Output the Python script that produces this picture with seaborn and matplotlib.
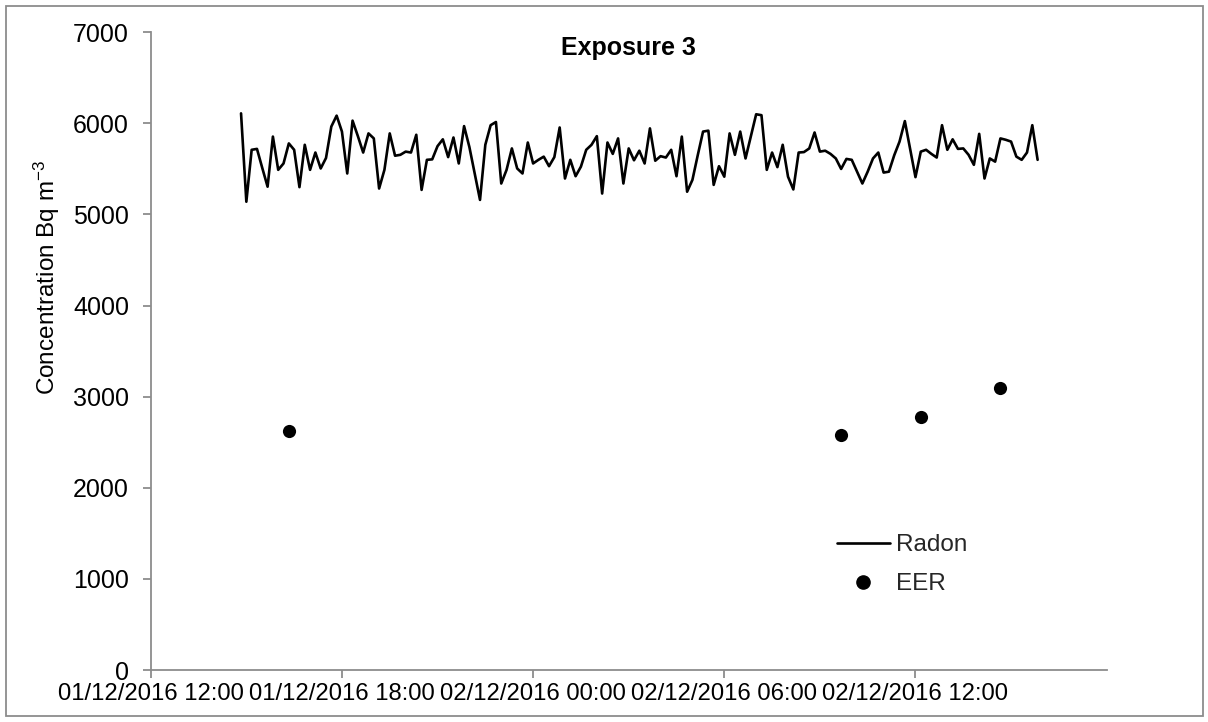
import matplotlib
matplotlib.use("Agg")
import matplotlib.pyplot as plt
import matplotlib.dates as mdates
from matplotlib.lines import Line2D
from matplotlib.patches import Rectangle
import pandas as pd
import seaborn as sns

# Radon concentration, 10-minute readings starting 01/12/2016 14:50 (Bq m-3)
radon_start = "2016-12-01 14:50"
radon_step = "10min"
radon_values = [
    6110, 5140, 5710, 5720, 5510, 5305, 5855, 5490, 5560, 5780,
    5710, 5300, 5765, 5490, 5680, 5505, 5620, 5965, 6085, 5910,
    5450, 6030, 5860, 5680, 5890, 5835, 5285, 5490, 5890, 5645,
    5655, 5690, 5680, 5875, 5270, 5600, 5605, 5750, 5825, 5630,
    5845, 5560, 5970, 5740, 5450, 5160, 5765, 5980, 6015, 5340,
    5490, 5725, 5505, 5450, 5790, 5560, 5600, 5635, 5530, 5630,
    5955, 5395, 5600, 5420, 5525, 5710, 5765, 5860, 5230, 5790,
    5665, 5835, 5340, 5725, 5595, 5700, 5560, 5945, 5590, 5640,
    5625, 5710, 5420, 5855, 5250, 5380, 5650, 5910, 5920, 5325,
    5530, 5415, 5890, 5655, 5910, 5615, 5860, 6100, 6090, 5490,
    5680, 5520, 5765, 5415, 5275, 5680, 5685, 5725, 5900, 5690,
    5700, 5665, 5615, 5500, 5610, 5600, 5470, 5340, 5470, 5615,
    5680, 5460, 5470, 5650, 5800, 6025, 5715, 5410, 5690, 5710,
    5665, 5625, 5980, 5710, 5825, 5720, 5725, 5655, 5545, 5885,
    5395, 5615, 5580, 5835, 5820, 5800, 5635, 5600, 5680, 5980,
    5600,
]

# Equilibrium equivalent radon (EER) spot measurements
eer_times = ["2016-12-01 16:20", "2016-12-02 09:40", "2016-12-02 12:10", "2016-12-02 14:40"]
eer_values = [2625, 2585, 2780, 3100]

y_ticks = [0, 1000, 2000, 3000, 4000, 5000, 6000, 7000]
x_ticks = ["2016-12-01 12:00", "2016-12-01 18:00", "2016-12-02 00:00",
           "2016-12-02 06:00", "2016-12-02 12:00"]
x_limits = ["2016-12-01 12:00", "2016-12-02 18:00"]

radon_df = pd.DataFrame({
    "time": pd.date_range(radon_start, periods=len(radon_values), freq=radon_step),
    "value": radon_values,
})
eer_df = pd.DataFrame({"time": pd.to_datetime(eer_times), "value": eer_values})

sns.set_theme(style="white")
plt.rcParams["font.family"] = ["Liberation Sans", "DejaVu Sans"]
plt.rcParams["mathtext.default"] = "regular"

fig = plt.figure(figsize=(12.08, 7.22), dpi=100)
ax = fig.add_axes([0.1248, 0.072, 0.7913, 0.8833])

sns.lineplot(data=radon_df, x="time", y="value", ax=ax, color="black",
             linewidth=1.9, legend=False)
sns.scatterplot(data=eer_df, x="time", y="value", ax=ax, color="black",
                s=90, edgecolor="black", linewidth=0, legend=False)

axis_grey = "#8c8c8c"
ax.set_ylim(0, 7000)
ax.set_yticks(y_ticks)
ax.set_xlim(pd.to_datetime(x_limits[0]), pd.to_datetime(x_limits[1]))
ax.set_xticks(pd.to_datetime(x_ticks))
ax.xaxis.set_major_formatter(mdates.DateFormatter("%d/%m/%Y %H:%M"))

for side in ["top", "right"]:
    ax.spines[side].set_visible(False)
for side in ["left", "bottom"]:
    ax.spines[side].set_color(axis_grey)
    ax.spines[side].set_linewidth(1.3)

ax.tick_params(axis="both", which="major", direction="out", length=5.6,
               width=1.3, color=axis_grey, labelcolor="black",
               left=True, bottom=True)
ax.tick_params(axis="x", pad=4, labelsize=17.2)
ax.tick_params(axis="y", pad=10, labelsize=18)

ax.set_xlabel("")
ax.set_ylabel("Concentration Bq m$^{-3}$", fontsize=17.5, color="black")
ax.yaxis.set_label_coords(-0.093, 0.615)

ax.text(0.5, 0.975, "Exposure 3", transform=ax.transAxes, ha="center",
        va="center", fontsize=18, fontweight="bold", color="black")

handles = [
    Line2D([], [], color="black", linewidth=1.9),
    Line2D([], [], color="black", marker="o", linestyle="none", markersize=9.5),
]
ax.legend(handles, ["Radon", "EER"], loc="upper left",
          bbox_to_anchor=(0.7176, 0.2126), frameon=False, fontsize=17.5,
          handlelength=2.18, handletextpad=0.25, labelspacing=0.7,
          borderaxespad=0, borderpad=0)

fig.patches.append(Rectangle((0.005, 0.008), 0.991, 0.983, transform=fig.transFigure,
                             fill=False, edgecolor="#8c8c8c", linewidth=1.3))

fig.savefig("out.png", dpi=100)
